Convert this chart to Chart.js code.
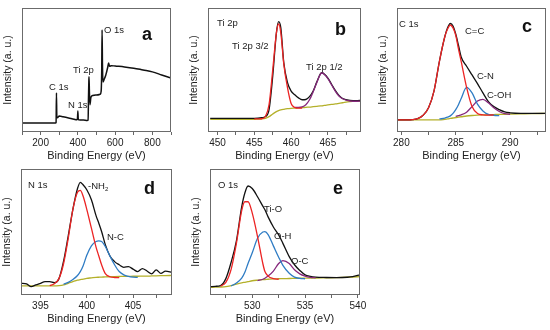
<!DOCTYPE html>
<html lang="en">
<head>
<meta charset="UTF-8">
<title>XPS spectra</title>
<script src="https://cdn.jsdelivr.net/npm/chart.js"></script>
<style>
  body { margin:0; width:550px; height:330px; overflow:hidden; background:#fff; position:relative; font-family:"Liberation Sans", Arial, sans-serif; }
  canvas { position:absolute; }
  .lbl { position:absolute; font-size:9.5px; color:#222; white-space:nowrap; line-height:1; }
  .tag { position:absolute; font-size:18px; font-weight:bold; color:#111; line-height:1; }
  sub { font-size:6px; vertical-align:-2px; }
</style>
</head>
<body>
<canvas id="chartA" width="173" height="157" style="left:2px;top:6px"></canvas>
<canvas id="chartB" width="177" height="157" style="left:188px;top:6px"></canvas>
<canvas id="chartC" width="173" height="157" style="left:377px;top:6px"></canvas>
<canvas id="chartD" width="175" height="159" style="left:1px;top:167px"></canvas>
<canvas id="chartE" width="184" height="159" style="left:190px;top:167px"></canvas>

<!-- peak labels -->
<div class="lbl" style="left:49px;top:82px">C 1s</div>
<div class="lbl" style="left:68px;top:100px">N 1s</div>
<div class="lbl" style="left:73px;top:65px">Ti 2p</div>
<div class="lbl" style="left:104px;top:25px">O 1s</div>
<div class="tag" style="left:142px;top:25px">a</div>

<div class="lbl" style="left:217px;top:18px">Ti 2p</div>
<div class="lbl" style="left:232px;top:41px">Ti 2p 3/2</div>
<div class="lbl" style="left:306px;top:62px">Ti 2p 1/2</div>
<div class="tag" style="left:335px;top:20px">b</div>

<div class="lbl" style="left:399px;top:19px">C 1s</div>
<div class="lbl" style="left:465px;top:26px">C=C</div>
<div class="lbl" style="left:477px;top:71px">C-N</div>
<div class="lbl" style="left:487px;top:90px">C-OH</div>
<div class="tag" style="left:522px;top:17px">c</div>

<div class="lbl" style="left:28px;top:180px">N 1s</div>
<div class="lbl" style="left:88px;top:181px">-NH<sub>2</sub></div>
<div class="lbl" style="left:107px;top:232px">N-C</div>
<div class="tag" style="left:144px;top:179px">d</div>

<div class="lbl" style="left:218px;top:180px">O 1s</div>
<div class="lbl" style="left:264px;top:204px">Ti-O</div>
<div class="lbl" style="left:274px;top:231px">O-H</div>
<div class="lbl" style="left:291px;top:256px">O-C</div>
<div class="tag" style="left:333px;top:179px">e</div>

<script>
// a: survey
const aEnergy = [100, 200, 280, 283, 285, 287, 290, 300, 320, 350, 380, 395, 398, 400, 402, 405, 430, 450, 455, 457, 459, 460, 462, 465, 470, 480, 500, 520, 525, 528, 530, 532, 535, 540, 550, 560, 565, 570, 580, 600, 650, 700, 750, 800, 850, 900];
const aSurvey = [7.3, 7.3, 7.3, 7.6, 31.5, 12.5, 11.5, 12.9, 12.3, 11.3, 10.2, 9.8, 11.5, 17, 10.5, 9.8, 9.6, 9.3, 9.5, 28, 42, 44.6, 32, 22, 28, 29.5, 29.8, 30.5, 33, 50, 82.3, 55, 40.3, 42, 46, 52, 55.6, 53, 53.5, 53.2, 52.5, 51.5, 50, 48.5, 46, 43.5];
const aTicks = [200, 400, 600, 800];

// b: Ti 2p
const bEnergy = [449, 450, 452, 454, 455, 456, 456.5, 457, 457.5, 458, 458.3, 458.6, 459, 459.5, 460, 460.5, 461, 461.5, 462, 462.5, 463, 463.5, 464, 464.2, 464.5, 465, 465.5, 466, 466.5, 467, 468, 469, 469.5];
const bTotal = [11, 11, 11, 11, 11, 11.5, 12.4, 18, 45, 80, 89, 84, 56, 40, 33, 30, 27.5, 26, 26.2, 28.5, 33, 40.5, 47, 47.8, 46.8, 43.5, 38.5, 33.5, 29.5, 27, 25.5, 25.3, 25.5];
const bTi32 = [null, null, null, null, 10.5, 10.7, 12.5, 22, 50, 80, 87.1, 80, 55, 36, 23, 19.8, 19.2, 19.3, null, null, null, null, null, null, null, null, null, null, null, null, null, null, null];
const bTi12 = [null, null, null, null, null, null, null, null, null, null, null, null, null, null, null, 19.8, 19.8, 20.2, 22, 26, 32.5, 40, 46.8, 47.6, 46.5, 43, 38, 33, 29, 26.8, 25, 24.8, 25];
const bBackground = [10.2, 10.2, 10.2, 10.2, 10.3, 10.5, 11, 12.4, 14.5, 16.4, 17.2, 17.8, 18.3, 18.8, 19.1, 19.3, 19.5, 19.6, 19.9, 20.1, 20.4, 20.7, 21, 21.1, 21.4, 21.8, 22.2, 22.6, 23.1, 23.6, 24.5, 24.9, 25];
const bTicks = [450, 455, 460, 465];

// c: C 1s
const cEnergy = [279.6, 280, 281, 281.5, 282, 282.5, 283, 283.5, 284, 284.25, 284.5, 284.75, 285, 285.25, 285.5, 286, 286.5, 287, 287.5, 288, 288.5, 289, 289.5, 290, 291, 292, 293.3];
const cTotal = [9.7, 9.7, 10, 10.8, 13.5, 19.5, 33, 57, 77, 84, 87.5, 85.5, 79, 70, 60.5, 53, 46, 39, 31.5, 24.5, 20.5, 18, 16.2, 15.5, 15.1, 15.1, 15.1];
const cCC = [9.7, 9.7, 10, 10.8, 13.5, 19.5, 33, 57, 77, 83, 86.3, 84, 78, 67, 57, 36, 20.5, 15, 13.8, 13.6, 13.8, null, null, null, null, null, null];
const cCN = [null, null, null, null, null, null, null, 10.5, 11.2, 12, 13, 15, 18, 22, 27, 36, 31.5, 22.5, 17, 14.2, 13.5, 13.2, null, null, null, null, null];
const cCOH = [null, null, null, null, null, null, null, null, null, null, null, null, 12.6, 13.2, 13.8, 16, 20.5, 25, 26.3, 23.5, 19.5, 16.5, 14.8, 14.2, null, null, null];
const cBackground = [9.7, 9.7, 9.7, 9.7, 9.7, 9.7, 9.7, 9.7, 10.2, 10.5, 10.9, 11.3, 11.7, 12, 12.3, 12.9, 13.3, 13.6, 13.8, 13.9, 14.05, 14.2, 14.3, 14.4, 14.6, 14.8, 15];
const cTicks = [280, 285, 290];

// d: N 1s
const dEnergy = [392.9, 393.5, 394, 394.5, 395, 395.5, 396, 396.5, 397, 397.5, 398, 398.5, 399, 399.3, 399.6, 400, 400.5, 401, 401.3, 401.6, 402, 402.5, 403, 403.5, 404, 404.5, 405, 405.5, 406, 406.5, 407, 407.5, 408, 408.5, 409.2];
const dTotal = [9.3, 8.8, 6.6, 8, 9.3, 10.6, 10.6, 9.8, 13, 27, 47, 68, 84.5, 89.4, 87.5, 83.5, 75.6, 63, 57, 50.4, 40, 31, 26.5, 24, 22, 22.5, 20.5, 18.6, 21, 19, 16.8, 20, 17.2, 19, 18];
const dNH2 = [null, null, null, null, null, null, 7.5, 9, 13, 25, 45, 68, 81.5, 83, 78.5, 68, 53, 38, 31, 24, 17, 14.5, 13.9, 13.8, null, null, null, null, null, null, null, null, null, null, null];
const dNC = [null, null, null, null, null, null, null, null, null, 8.5, 10, 12.3, 15.5, 18.5, 23, 31.5, 39, 42.5, 43, 42.5, 38.5, 31, 24, 18.6, 16, 14.8, 14.2, 14, null, null, null, null, null, null, null];
const dBackground = [7.2, 7.2, 7.2, 7.2, 7.2, 7.2, 7.2, 7.2, 7.4, 8, 9.3, 10.6, 11.8, 12.2, 12.6, 13.2, 13.6, 14, 14.1, 14.2, 14.4, 14.5, 14.6, 14.7, 14.8, 14.8, 14.9, 14.9, 15, 15, 15.1, 15.2, 15.3, 15.4, 15.5];
const dTicks = [395, 400, 405];

// e: O 1s
const eEnergy = [526, 526.5, 527, 527.5, 528, 528.5, 529, 529.3, 529.6, 530, 530.5, 531, 531.2, 531.5, 532, 532.5, 532.9, 533.5, 534, 534.5, 535, 535.5, 536, 537, 538, 539, 539.5, 540.2];
const eTotal = [6.6, 6.9, 7.5, 13, 26, 43, 70, 81, 86.5, 84.5, 78, 70.5, 67.6, 62, 54, 47.7, 41, 30.5, 24, 19.5, 16, 14.8, 14.2, 13.9, 13.8, 14.1, 14.6, 16];
const eTiO = [null, null, 7, 10, 20.4, 41, 67, 74, 74, 65, 46.4, 25, 18.6, 15, 13, 12.5, null, null, null, null, null, null, null, null, null, null, null, null];
const eOH = [null, null, null, null, 7.2, 9.5, 13.3, 18, 25, 33.5, 45, 50, 50.3, 48, 39, 30, 23.5, 17.2, 14.2, 13.2, 12.9, null, null, null, null, null, null, null];
const eOC = [null, null, null, null, null, null, null, null, null, null, 11.5, 12.5, 13.3, 15, 19, 25, 27.3, 25, 20, 16.8, 15, 14, 13.6, null, null, null, null, null];
const eBackground = [6.1, 6.2, 6.3, 6.6, 7.5, 8.6, 9.6, 10.1, 10.6, 11.3, 11.8, 12.2, 12.3, 12.5, 12.8, 12.9, 13, 13.1, 13.2, 13.3, 13.4, 13.45, 13.5, 13.65, 13.8, 14.1, 14.3, 14.6];
const eTicks = [530, 535, 540];

const RED = '#ec2424', BLUE = '#2f7cc4', PURPLE = '#86287c', OLIVE = '#b4b02a', BLACK = '#111';

function pts(xs, ys) {
    return xs.map((x, i) => ({ x: x, y: ys[i] }));
}

function line(xs, ys, color, width) {
    return {
        data: pts(xs, ys),
        borderColor: color,
        borderWidth: width || 1.3,
        pointRadius: 0,
        fill: false,
        cubicInterpolationMode: 'monotone',
        spanGaps: false
    };
}

// box round the plot area
const frame = {
    id: 'frame',
    afterDraw(chart) {
        const a = chart.chartArea, ctx = chart.ctx;
        ctx.save();
        ctx.strokeStyle = '#6b6b6b';
        ctx.lineWidth = 1;
        ctx.strokeRect(Math.round(a.left) + 0.5, Math.round(a.top) + 0.5, Math.round(a.width) - 1, Math.round(a.height) - 1);
        ctx.restore();
    }
};

function makeChart(id, xmin, xmax, majors, padRight, datasets) {
    const step = (majors[1] - majors[0]) / 2;
    new Chart(document.getElementById(id), {
        type: 'line',
        data: { datasets: datasets },
        plugins: [frame],
        options: {
            responsive: false,
            animation: false,
            layout: { padding: { top: 2, right: padRight, left: 0, bottom: 0 } },
            plugins: { legend: { display: false }, tooltip: { enabled: false } },
            scales: {
                x: {
                    type: 'linear',
                    min: xmin,
                    max: xmax,
                    afterFit(s) { s.height = 31; },
                    afterBuildTicks(s) {
                        const out = [];
                        for (let v = Math.ceil(xmin / step) * step; v <= xmax + 1e-9; v += step) {
                            out.push({ value: +v.toFixed(3) });
                        }
                        s.ticks = out;
                    },
                    ticks: {
                        autoSkip: false,
                        maxRotation: 0,
                        padding: 2,
                        color: '#222',
                        font: { size: 10, family: 'Liberation Sans' },
                        callback: v => majors.includes(v) ? String(v) : ''
                    },
                    grid: { drawOnChartArea: false, tickLength: 3, color: '#666' },
                    border: { display: false },
                    title: {
                        display: true,
                        text: 'Binding Energy (eV)',
                        color: '#222',
                        font: { size: 11, family: 'Liberation Sans' },
                        padding: { top: 1, bottom: 0 }
                    }
                },
                y: {
                    min: 0,
                    max: 100,
                    afterFit(s) { s.width = 20; },
                    ticks: { display: false },
                    grid: { display: false },
                    border: { display: false },
                    title: {
                        display: true,
                        text: 'Intensity (a. u.)',
                        color: '#222',
                        font: { size: 10.5, family: 'Liberation Sans' },
                        padding: 0
                    }
                }
            }
        }
    });
}

makeChart('chartA', 100, 900, aTicks, 4, [
    line(aEnergy, aSurvey, BLACK, 1.5)
]);

makeChart('chartB', 448.7, 469.5, bTicks, 4, [
    line(bEnergy, bTi32, RED),
    line(bEnergy, bTi12, PURPLE),
    line(bEnergy, bTotal, BLACK),
    line(bEnergy, bBackground, OLIVE)
]);

makeChart('chartC', 279.6, 293.3, cTicks, 4, [
    line(cEnergy, cCC, RED),
    line(cEnergy, cCN, BLUE),
    line(cEnergy, cCOH, PURPLE),
    line(cEnergy, cTotal, BLACK),
    line(cEnergy, cBackground, OLIVE)
]);

makeChart('chartD', 392.9, 409.2, dTicks, 4, [
    line(dEnergy, dNH2, RED),
    line(dEnergy, dNC, BLUE),
    line(dEnergy, dTotal, BLACK),
    line(dEnergy, dBackground, OLIVE)
]);

makeChart('chartE', 526, 540.2, eTicks, 14, [
    line(eEnergy, eTiO, RED),
    line(eEnergy, eOH, BLUE),
    line(eEnergy, eOC, PURPLE),
    line(eEnergy, eTotal, BLACK),
    line(eEnergy, eBackground, OLIVE)
]);
</script>
</body>
</html>
